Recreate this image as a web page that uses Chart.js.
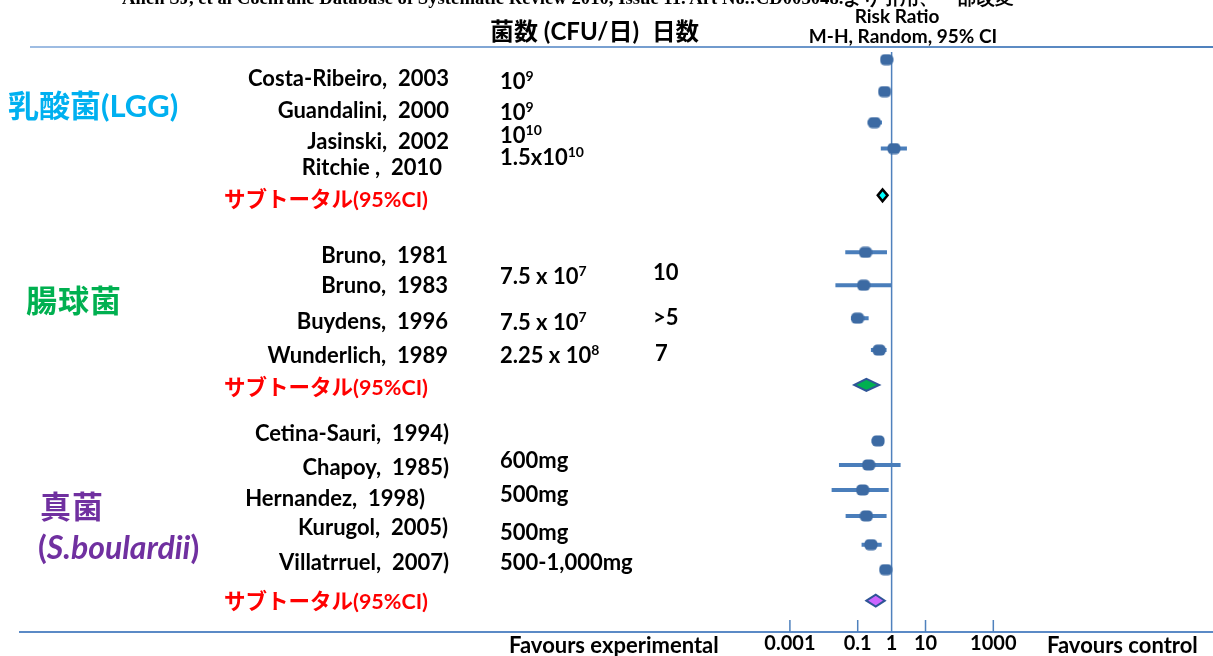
<!DOCTYPE html>
<html>
<head>
<meta charset="utf-8">
<script src="https://cdn.jsdelivr.net/npm/chart.js@4.4.1/dist/chart.umd.min.js"></script>
<style>
  body { margin: 0; background: #fff; }
  #wrap { position: relative; width: 1213px; height: 656px; overflow: hidden; }
  #forest { position: absolute; left: 0; top: 0; }
  .t { position: absolute; white-space: nowrap; font-family: Lato, "Noto Sans CJK JP", sans-serif;
       font-weight: bold; font-size: 22px; line-height: 24px; color: #000; }
  .r { text-align: right; }
  .sub { color: #ff0000; font-size: 21.5px; }
  .grp { font-size: 31px; line-height: 34px; }
  sup { font-size: 14px; line-height: 0; vertical-align: 8px; }
</style>
</head>
<body>
<div id="wrap">
  <canvas id="forest" width="1213" height="656"></canvas>

  <div class="t" style="left:122px;top:-12px;font-family:'Liberation Serif',serif;font-size:18.7px;line-height:20px">Allen SJ, et al Cochrane Database of Systematic Review 2010, Issue 11. Art No.:CD003048.より引用、一部改変</div>

  <div class="t" style="left:490px;top:19px;font-size:24px">菌数 (CFU/日)</div>
  <div class="t" style="left:652px;top:19px;font-size:23.5px">日数</div>
  <div class="t" style="left:797px;top:6px;width:200px;text-align:center;font-size:19px;line-height:20px">Risk Ratio</div>
  <div class="t" style="left:803px;top:26px;width:200px;text-align:center;font-size:19px;line-height:20px">M-H, Random, 95% CI</div>

  <div class="t grp" style="left:8px;top:88px;color:#00b0f0">乳酸菌(LGG)</div>
  <div class="t grp" style="left:26px;top:283px;color:#00b050;letter-spacing:1px">腸球菌</div>
  <div class="t grp" style="left:40px;top:489px;color:#7030a0;letter-spacing:1px">真菌</div>
  <div class="t grp" style="left:38px;top:530px;color:#7030a0;font-size:32px">(<i>S.boulardii</i>)</div>

  <div class="t r" style="right:764px;top:66px">Costa-Ribeiro,&nbsp; 2003</div>
  <div class="t r" style="right:764px;top:98px">Guandalini,&nbsp; 2000</div>
  <div class="t r" style="right:764px;top:129px">Jasinski,&nbsp; 2002</div>
  <div class="t r" style="right:771px;top:155px">Ritchie ,&nbsp; 2010</div>
  <div class="t sub" style="left:224px;top:187px">サブトータル(95%CI)</div>

  <div class="t r" style="right:765px;top:243px">Bruno,&nbsp; 1981</div>
  <div class="t r" style="right:765px;top:273px">Bruno,&nbsp; 1983</div>
  <div class="t r" style="right:765px;top:309px">Buydens,&nbsp; 1996</div>
  <div class="t r" style="right:765px;top:343px">Wunderlich,&nbsp; 1989</div>
  <div class="t sub" style="left:224px;top:375px">サブトータル(95%CI)</div>

  <div class="t r" style="right:764px;top:421px">Cetina-Sauri,&nbsp; 1994)</div>
  <div class="t r" style="right:764px;top:455px">Chapoy,&nbsp; 1985)</div>
  <div class="t r" style="right:788px;top:486px">Hernandez,&nbsp; 1998)</div>
  <div class="t r" style="right:765px;top:515px">Kurugol,&nbsp; 2005)</div>
  <div class="t r" style="right:764px;top:550px">Villatrruel,&nbsp; 2007)</div>
  <div class="t sub" style="left:224px;top:589px">サブトータル(95%CI)</div>

  <div class="t" style="left:500px;top:69px">10<sup>9</sup></div>
  <div class="t" style="left:500px;top:100px">10<sup>9</sup></div>
  <div class="t" style="left:500px;top:123px">10<sup>10</sup></div>
  <div class="t" style="left:500px;top:145px">1.5x10<sup>10</sup></div>
  <div class="t" style="left:500px;top:264px">7.5 x 10<sup>7</sup></div>
  <div class="t" style="left:500px;top:310px">7.5 x 10<sup>7</sup></div>
  <div class="t" style="left:500px;top:343px">2.25 x 10<sup>8</sup></div>
  <div class="t" style="left:653px;top:260px">10</div>
  <div class="t" style="left:653px;top:305px">&gt;5</div>
  <div class="t" style="left:655px;top:341px">7</div>
  <div class="t" style="left:500px;top:448px">600mg</div>
  <div class="t" style="left:500px;top:482px">500mg</div>
  <div class="t" style="left:500px;top:520px">500mg</div>
  <div class="t" style="left:500px;top:550px">500-1,000mg</div>

  <div class="t" style="left:509px;top:633px">Favours experimental</div>
  <div class="t" style="left:1047px;top:633px">Favours control</div>
</div>

<script>
// risk ratio and 95% CI for each study
const rr = [0.71, 0.62, 0.31, 1.17, 0.17, 0.15, 0.099, 0.43, 0.40, 0.21, 0.14, 0.18, 0.245, 0.67];
const ciLow = [0.52, 0.45, 0.20, 0.48, 0.043, 0.022, 0.063, 0.245, 0.26, 0.028, 0.017, 0.044, 0.13, 0.45];
const ciHigh = [1.09, 0.83, 0.52, 2.83, 0.73, 0.97, 0.21, 0.71, 0.56, 1.84, 0.82, 0.71, 0.51, 0.95];
const studyRow = [1, 2.01, 2.99, 3.81, 7.09, 8.13, 9.17, 10.18, 13.05, 13.81, 14.6, 15.42, 16.33, 17.12];

// subtotals: LGG, enterococcus, S.boulardii
const subRR = [0.54, 0.18, 0.34];
const subLow = [0.39, 0.079, 0.18];
const subHigh = [0.76, 0.43, 0.63];
const subRow = [5.29, 11.28, 18.1];
const subFill = ['#00ffff', '#00b050', '#cc66ff'];
const subEdge = ['#000000', '#2f5597', '#2f5597'];

const tickVals = [0.001, 0.1, 1, 10, 1000];

// marker for point estimates
const mark = document.createElement('canvas');
mark.width = 14; mark.height = 12;
const mc = mark.getContext('2d');
mc.fillStyle = '#3c6aa3';
mc.beginPath();
mc.roundRect(0.5, 0.5, 13, 11, 4.5);
mc.fill();

const forestPlugin = {
  id: 'forest',
  beforeDatasetsDraw(chart) {
    const {ctx, chartArea, scales: {x, y}} = chart;
    ctx.save();
    // rule under the header
    const g = ctx.createLinearGradient(30, 0, 1213, 0);
    g.addColorStop(0, '#9fbde3');
    g.addColorStop(1, '#4f81bd');
    ctx.strokeStyle = g;
    ctx.lineWidth = 2;
    ctx.beginPath();
    ctx.moveTo(30, 47);
    ctx.lineTo(1213, 47);
    ctx.stroke();

    // line of no effect
    ctx.strokeStyle = '#4f81bd';
    ctx.lineWidth = 1.5;
    ctx.beginPath();
    const x1 = x.getPixelForValue(1);
    ctx.moveTo(x1, 52);
    ctx.lineTo(x1, chartArea.bottom);
    // tick marks pointing up
    tickVals.forEach(v => {
      const px = x.getPixelForValue(v);
      ctx.moveTo(px, chartArea.bottom - 12);
      ctx.lineTo(px, chartArea.bottom);
    });
    ctx.stroke();

    // confidence intervals
    ctx.strokeStyle = '#4a7ebb';
    ctx.lineWidth = 4;
    ctx.beginPath();
    rr.forEach((v, i) => {
      const py = y.getPixelForValue(studyRow[i]);
      ctx.moveTo(x.getPixelForValue(ciLow[i]), py);
      ctx.lineTo(x.getPixelForValue(ciHigh[i]), py);
    });
    ctx.stroke();
    ctx.restore();
  },
  afterDatasetsDraw(chart) {
    const {ctx, scales: {x, y}} = chart;
    ctx.save();
    subRR.forEach((v, i) => {
      const py = y.getPixelForValue(subRow[i]);
      ctx.beginPath();
      ctx.moveTo(x.getPixelForValue(subLow[i]), py);
      ctx.lineTo(x.getPixelForValue(v), py - 6);
      ctx.lineTo(x.getPixelForValue(subHigh[i]), py);
      ctx.lineTo(x.getPixelForValue(v), py + 6);
      ctx.closePath();
      ctx.fillStyle = subFill[i];
      ctx.fill();
      ctx.strokeStyle = subEdge[i];
      ctx.lineWidth = i === 0 ? 2.5 : 2;
      ctx.stroke();
    });
    ctx.restore();
  }
};

const config = {
  type: 'scatter',
  data: {
    datasets: [{
      label: 'Risk Ratio',
      data: rr.map((v, i) => ({x: v, y: studyRow[i]})),
      pointStyle: mark,
      pointRadius: 6
    }]
  },
  options: {
    responsive: false,
    animation: false,
    layout: {autoPadding: false, padding: {left: 20, right: 0, top: 28, bottom: 0}},
    plugins: {legend: {display: false}, tooltip: {enabled: false}},
    scales: {
      x: {
        type: 'logarithmic',
        min: Math.pow(10, -25.71),
        max: Math.pow(10, 9.48),
        afterBuildTicks: scale => { scale.ticks = tickVals.map(v => ({value: v})); },
        ticks: {
          callback: v => String(v),
          font: {family: 'Lato', size: 20, weight: 'bold'},
          color: '#000',
          padding: 0,
          maxRotation: 0,
          autoSkip: false
        },
        grid: {display: false, drawTicks: false},
        border: {display: true, color: '#5b8ac6', width: 2}
      },
      y: {type: 'linear', reverse: true, min: 0, max: 19.09, display: false}
    }
  },
  plugins: [forestPlugin]
};

const myChart = new Chart(document.getElementById('forest'), config);
</script>
</body>
</html>
